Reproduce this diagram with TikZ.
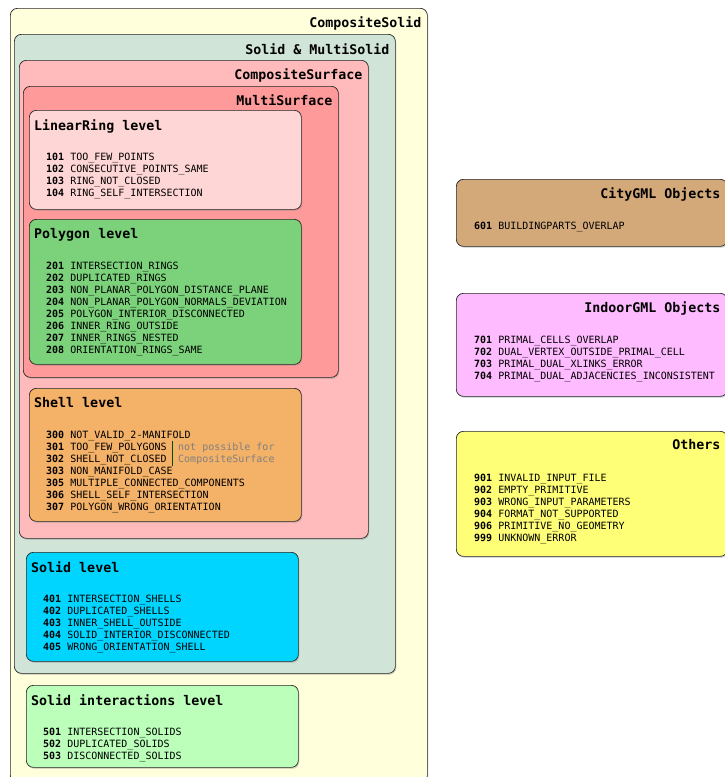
\documentclass[tikz,border=0pt]{standalone}
\usepackage{fontspec}
\setmainfont{DejaVu Sans Mono}
\usetikzlibrary{positioning,calc,shadows}

\definecolor{cSolidBg}{HTML}{FFFFDC}
\definecolor{cMultiSolid}{HTML}{D1E4D8}
\definecolor{cCompSurf}{HTML}{FFBBBB}
\definecolor{cMultiSurf}{HTML}{FF9A9A}
\definecolor{cRing}{HTML}{FFD6D6}
\definecolor{cPoly}{HTML}{7BD27B}
\definecolor{cShell}{HTML}{F4B168}
\definecolor{cSolid}{HTML}{00D5FF}
\definecolor{cInter}{HTML}{BBFFBB}
\definecolor{cCity}{HTML}{D4A97A}
\definecolor{cIndoor}{HTML}{FFBBFF}
\definecolor{cOthers}{HTML}{FFFF77}

\begin{document}
\begin{tikzpicture}[
  x=1pt, y=-1pt,
  box/.style={draw=black!85, line width=0.7pt, rounded corners=7pt, anchor=north west, inner sep=0pt,
    drop shadow={shadow xshift=1pt, shadow yshift=-1.5pt, opacity=0.3}},
  ttl/.style={inner sep=0pt, font=\fontsize{13.3}{15}\selectfont\bfseries},
  codes/.style={inner sep=0pt, align=left, font=\fontsize{10}{12}\selectfont},
  note/.style={inner xsep=6pt, inner ysep=1pt, align=left, text=black!50, font=\fontsize{10}{12}\selectfont},
  noteline/.style={draw=green!30!black, line width=0.7pt}
]
\useasboundingbox (0,0) rectangle (724,777);

% nested containers
\node[box, fill=cSolidBg, minimum width=417pt, minimum height=774pt] (compsolid) at (10,8) {};
\node[ttl, below left=8pt and 6pt of compsolid.north east] (compsolidT) {CompositeSolid};

\node[box, fill=cMultiSolid, minimum width=381pt, minimum height=639pt] (multisolid) at (14,34) {};
\node[ttl, below left=9pt and 6pt of multisolid.north east] (multisolidT) {Solid \& MultiSolid};

\node[box, fill=cCompSurf, minimum width=349pt, minimum height=478pt] (compsurf) at (19,60) {};
\node[ttl, below left=8pt and 6pt of compsurf.north east] (compsurfT) {CompositeSurface};

\node[box, fill=cMultiSurf, minimum width=315pt, minimum height=291pt] (multisurf) at (23,86) {};
\node[ttl, below left=8pt and 6pt of multisurf.north east] (multisurfT) {MultiSurface};

% LinearRing
\node[box, fill=cRing, minimum width=272pt, minimum height=99pt] (ring) at (29,110) {};
\node[ttl, below right=9pt and 5pt of ring.north west] (ringT) {LinearRing level};
\node[codes, below right=42.7pt and 17pt of ring.north west] (ringC) {%
  \textbf{101} TOO\_FEW\_POINTS\\
  \textbf{102} CONSECUTIVE\_POINTS\_SAME\\
  \textbf{103} RING\_NOT\_CLOSED\\
  \textbf{104} RING\_SELF\_INTERSECTION};

% Polygon
\node[box, fill=cPoly, minimum width=272pt, minimum height=145pt] (poly) at (29,219) {};
\node[ttl, below right=9pt and 5pt of poly.north west] (polyT) {Polygon level};
\node[codes, below right=42.7pt and 17pt of poly.north west] (polyC) {%
  \textbf{201} INTERSECTION\_RINGS\\
  \textbf{202} DUPLICATED\_RINGS\\
  \textbf{203} NON\_PLANAR\_POLYGON\_DISTANCE\_PLANE\\
  \textbf{204} NON\_PLANAR\_POLYGON\_NORMALS\_DEVIATION\\
  \textbf{205} POLYGON\_INTERIOR\_DISCONNECTED\\
  \textbf{206} INNER\_RING\_OUTSIDE\\
  \textbf{207} INNER\_RINGS\_NESTED\\
  \textbf{208} ORIENTATION\_RINGS\_SAME};

% Shell
\node[box, fill=cShell, minimum width=272pt, minimum height=133pt] (shell) at (29,388) {};
\node[ttl, below right=9pt and 5pt of shell.north west] (shellT) {Shell level};
\node[codes, below right=42.7pt and 17pt of shell.north west] (shellC) {%
  \textbf{300} NOT\_VALID\_2-MANIFOLD\\
  \textbf{301} TOO\_FEW\_POLYGONS\\
  \textbf{302} SHELL\_NOT\_CLOSED\\
  \textbf{303} NON\_MANIFOLD\_CASE\\
  \textbf{305} MULTIPLE\_CONNECTED\_COMPONENTS\\
  \textbf{306} SHELL\_SELF\_INTERSECTION\\
  \textbf{307} POLYGON\_WRONG\_ORIENTATION};
\node[note, below right=53.4pt and 143pt of shell.north west] (shellN) {not possible for\\CompositeSurface};
\draw[noteline] (shellN.north west) -- (shellN.south west);

% Solid
\node[box, fill=cSolid, minimum width=272pt, minimum height=109pt] (solid) at (26,552) {};
\node[ttl, below right=9pt and 5pt of solid.north west] (solidT) {Solid level};
\node[codes, below right=42.7pt and 17pt of solid.north west] (solidC) {%
  \textbf{401} INTERSECTION\_SHELLS\\
  \textbf{402} DUPLICATED\_SHELLS\\
  \textbf{403} INNER\_SHELL\_OUTSIDE\\
  \textbf{404} SOLID\_INTERIOR\_DISCONNECTED\\
  \textbf{405} WRONG\_ORIENTATION\_SHELL};

% Solid interactions
\node[box, fill=cInter, minimum width=272pt, minimum height=82pt] (inter) at (26,685) {};
\node[ttl, below right=9pt and 5pt of inter.north west] (interT) {Solid interactions level};
\node[codes, below right=42.7pt and 17pt of inter.north west] (interC) {%
  \textbf{501} INTERSECTION\_SOLIDS\\
  \textbf{502} DUPLICATED\_SOLIDS\\
  \textbf{503} DISCONNECTED\_SOLIDS};

% right column
\node[box, fill=cCity, minimum width=271pt, minimum height=67pt] (city) at (456,179) {};
\node[ttl, below left=8pt and 7pt of city.north east] (cityT) {CityGML Objects};
\node[codes, below right=42.7pt and 18pt of city.north west] (cityC) {%
  \textbf{601} BUILDINGPARTS\_OVERLAP};

\node[box, fill=cIndoor, minimum width=271pt, minimum height=103pt] (indoor) at (456,293) {};
\node[ttl, below left=8pt and 7pt of indoor.north east] (indoorT) {IndoorGML Objects};
\node[codes, below right=42.7pt and 18pt of indoor.north west] (indoorC) {%
  \textbf{701} PRIMAL\_CELLS\_OVERLAP\\
  \textbf{702} DUAL\_VERTEX\_OUTSIDE\_PRIMAL\_CELL\\
  \textbf{703} PRIMAL\_DUAL\_XLINKS\_ERROR\\
  \textbf{704} PRIMAL\_DUAL\_ADJACENCIES\_INCONSISTENT};

\node[box, fill=cOthers, minimum width=271pt, minimum height=125pt] (others) at (456,431) {};
\node[ttl, below left=8pt and 7pt of others.north east] (othersT) {Others};
\node[codes, below right=42.7pt and 18pt of others.north west] (othersC) {%
  \textbf{901} INVALID\_INPUT\_FILE\\
  \textbf{902} EMPTY\_PRIMITIVE\\
  \textbf{903} WRONG\_INPUT\_PARAMETERS\\
  \textbf{904} FORMAT\_NOT\_SUPPORTED\\
  \textbf{906} PRIMITIVE\_NO\_GEOMETRY\\
  \textbf{999} UNKNOWN\_ERROR};

\end{tikzpicture}
\end{document}
